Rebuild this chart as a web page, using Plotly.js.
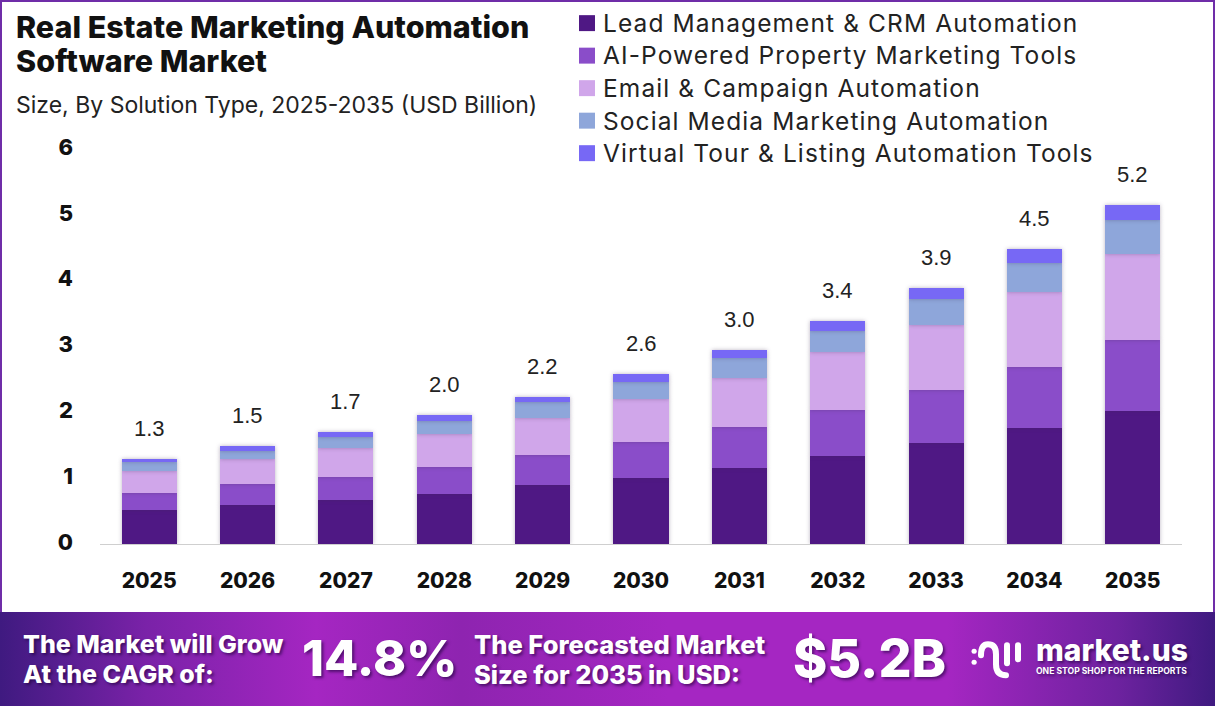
<!DOCTYPE html>
<html><head><meta charset="utf-8">
<script src="https://cdn.plot.ly/plotly-3.0.1.min.js"></script>
<style>
html,body{margin:0;padding:0;background:#fff;}
#wrap{position:relative;width:1215px;height:706px;overflow:hidden;background:#fff;}
#frame{position:absolute;left:0;top:0;width:1215px;height:612px;box-sizing:border-box;border:solid #6f2da8;border-width:2px 2px 0 2px;}
#band{position:absolute;left:0;top:612px;width:1215px;height:94px;background:linear-gradient(90deg,#3f1a80 0%,#7a22a8 12%,#a526c2 26%,#8e24b0 38%,#a526c2 55%,#a526c2 78%,#6d229f 92%,#3f1a80 100%);}
#chart{position:absolute;left:0;top:0;width:1215px;height:706px;}
.trace.bars .points{filter:drop-shadow(0 0 2px rgba(60,40,80,.35));}
.legend .legendtext{font-size:24.5px !important;letter-spacing:1.1px;}
.legend .scrollbox{clip-path:none !important;}
.legend .legendpoints path{transform:translate(24px,0) scale(1.33) !important;}
.shapelayer path{stroke-linecap:round;stroke-linejoin:round;}
</style></head><body>
<div id="wrap"><div id="frame"></div><div id="band"></div><div id="chart"></div></div>
<script>
const years=['2025','2026','2027','2028','2029','2030','2031','2032','2033','2034','2035'];
const totalLabels=['1.3','1.5','1.7','2.0','2.2','2.6','3.0','3.4','3.9','4.5','5.2'];
const names=['Lead Management & CRM Automation','AI-Powered Property Marketing Tools','Email & Campaign Automation','Social Media Marketing Automation','Virtual Tour & Listing Automation Tools'];
const colors=['#4f1884','#8a4dc9','#d0a6ea','#8ea6da','#7768f5'];
const lead=[0.51,0.585,0.675,0.765,0.89,1.01,1.16,1.34,1.54,1.765,2.02];
const ai=[0.27,0.32,0.35,0.41,0.455,0.545,0.62,0.70,0.80,0.92,1.08];
const email=[0.335,0.38,0.44,0.50,0.575,0.65,0.74,0.88,0.985,1.14,1.30];
const social=[0.135,0.135,0.165,0.20,0.23,0.26,0.30,0.32,0.39,0.45,0.515];
const virtual=[0.045,0.07,0.075,0.09,0.09,0.11,0.12,0.15,0.18,0.20,0.24];
const series=[lead,ai,email,social,virtual];
const W=1215,H=706,L=100,R=33,T=148.5,B=161.5;
const px=x=>(x-L)/(W-L-R), py=y=>1-(y-T)/(H-T-B);
const F='Inter, "Open Sans", sans-serif';
const traces=series.map((s,i)=>({type:'bar',name:names[i],x:years,y:s,marker:{color:colors[i]},hoverinfo:'x+y+name'}));
const tops=years.map((_,k)=>series.reduce((a,s)=>a+s[k],0));
const ann=[];
years.forEach((y,k)=>ann.push({x:k,y:tops[k],xref:'x',yref:'y',text:totalLabels[k],showarrow:false,yanchor:'bottom',yshift:16,font:{family:'"Liberation Sans",Arial,sans-serif',size:22,color:'#222'}}));
function t(text,x,y,size,weight,color){ann.push({text,x:px(x-2),y:py(y),xref:'paper',yref:'paper',xanchor:'left',yanchor:'middle',showarrow:false,align:'left',font:{family:F,size,weight,color}});}
t('Real Estate Marketing Automation',16,26,30.5,800,'#111');
t('Software Market',16,60,30.5,800,'#111');
t('Size, By Solution Type, 2025-2035 (USD Billion)',16,104,23,400,'#222');
const sh='2px 2px 3px rgba(30,0,60,.6)';
t('The Market will Grow',23,645,25,800,'#fff');
t('At the CAGR of:',23,675,25,800,'#fff');
t('14.8%',302,659,50,800,'#fff');
t('The Forecasted Market',474,645,25.5,800,'#fff');
t('Size for 2035 in USD:',474,675,25.5,800,'#fff');
t('$5.2B',793,659,52,800,'#fff');
t('market.us',1036,651,30,800,'#fff');
t('ONE STOP SHOP FOR THE REPORTS',1036,672,8.6,700,'#fff');
ann.forEach(a=>{if(a.font.color==='#fff')a.font.shadow=sh;});
const S=(c)=>Object.assign({xref:'paper',yref:'paper'},c);
const p=(x,y)=>px(x)+' '+py(y);
const layout={width:W,height:H,margin:{l:L,r:R,t:T,b:B,pad:0,autoexpand:false},barmode:'stack',bargap:0.44,
 paper_bgcolor:'rgba(0,0,0,0)',plot_bgcolor:'rgba(0,0,0,0)',showlegend:true,
 legend:{x:px(563),y:py(1),xanchor:'left',yanchor:'top',traceorder:'normal',bgcolor:'rgba(0,0,0,0)',font:{family:F,size:22.7,color:'#222'},tracegroupgap:0,itemclick:false,itemdoubleclick:false},
 xaxis:{type:'category',range:[-0.5,10.5],showgrid:false,zeroline:false,showline:true,linecolor:'#cfcfcf',linewidth:1,ticks:'',ticklabelstandoff:18,tickfont:{family:F,size:21,weight:800,color:'#111'}},
 yaxis:{range:[0,6],tick0:0,dtick:1,showgrid:false,zeroline:false,showline:false,ticks:'',ticklabelstandoff:26,ticklabelshift:-2,tickfont:{family:F,size:22,weight:800,color:'#111'}},
 annotations:ann,
 shapes:[
  S({type:'path',path:'M '+p(974,652)+' L '+p(974.2,652),line:{color:'#fff',width:5}}),
  S({type:'path',path:'M '+p(974,663)+' L '+p(974.2,663),line:{color:'#fff',width:5}}),
  S({type:'path',path:'M '+p(981,656)+' Q '+p(981,645)+' '+p(988,645)+' Q '+p(996,645)+' '+p(996,655)+' L '+p(996,665)+' Q '+p(996,676)+' '+p(1006,676),line:{color:'#fff',width:6}}),
  S({type:'path',path:'M '+p(1007,646)+' L '+p(1007,664),line:{color:'#fff',width:6}}),
  S({type:'path',path:'M '+p(1018,646)+' L '+p(1018,660),line:{color:'#fff',width:6}})
 ]
};
Plotly.newPlot('chart',traces,layout,{displayModeBar:false});
</script></body></html>
